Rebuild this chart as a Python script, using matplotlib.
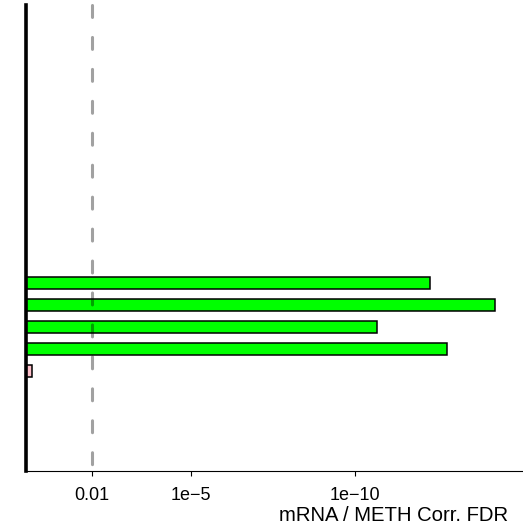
import numpy as np
import matplotlib
matplotlib.use('Agg')
import matplotlib.pyplot as plt

plt.rcParams['font.family'] = ['Liberation Sans', 'DejaVu Sans']
plt.rcParams['lines.scale_dashes'] = False

# -log10(FDR) per probe, bottom to top
neg_log_fdr = [0.19, 12.78, 10.65, 14.24, 12.27]
bar_colors = ['#FFC0CB', '#00FF00', '#00FF00', '#00FF00', '#00FF00']
tick_vals = [2, 5, 10]
tick_labels = ['0.01', '1e\u22125', '1e\u221210']
cutoff = 2  # FDR 0.01

W, H = 523, 527
fig = plt.figure(figsize=(W / 100, H / 100), dpi=100)
# axes placed in pixel terms
left, right, bottom, top = 26.2, 523, 471, 5
ax = fig.add_axes([left / W, 1 - bottom / H, (right - left) / W, (bottom - top) / H])

ypos = np.arange(len(neg_log_fdr))
ax.barh(ypos, neg_log_fdr, height=0.55, color=bar_colors,
        edgecolor='black', linewidth=1.1, zorder=2)

ax.set_xlim(0, (right - left) / 32.9)
ax.set_ylim(-4.55, 16.6)

# significance cutoff, drawn over bars
ax.plot([cutoff, cutoff], [16.6, -4.55], color='black', alpha=0.37, lw=2.2,
        dashes=(8.6, 14.4), solid_capstyle='round', dash_capstyle='round',
        zorder=3, clip_on=False)
ax.axvline(0, color='black', lw=2.6, zorder=4, clip_on=False)

for s in ['top', 'right', 'left']:
    ax.spines[s].set_visible(False)
ax.spines['bottom'].set_linewidth(0.8)
ax.set_yticks([])
ax.set_xticks(tick_vals)
ax.set_xticklabels(tick_labels, fontsize=13)
ax.tick_params(axis='x', length=3.5, width=0.8, pad=8)

fig.text(508 / W, 1 - 521 / H, 'mRNA / METH Corr. FDR', fontsize=14.6,
         ha='right', va='baseline')

fig.savefig('out.png', dpi=100)
